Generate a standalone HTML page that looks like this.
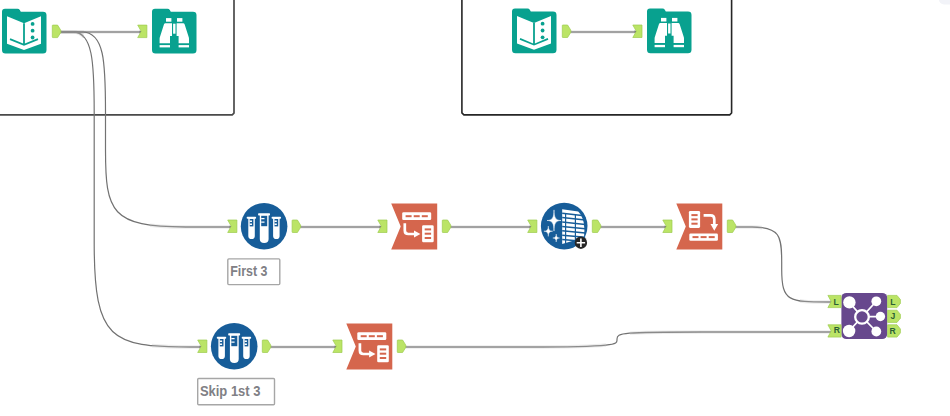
<!DOCTYPE html>
<html lang="en">
<head>
<meta charset="utf-8">
<title>Workflow</title>
<style>
  html,body{margin:0;padding:0;background:#fff;}
  body{width:950px;height:416px;overflow:hidden;position:relative;font-family:"Liberation Sans",sans-serif;}
  svg{position:absolute;left:0;top:0;display:block;}
  .wire path{fill:none;stroke:#727272;stroke-width:1.2;}
  .hwire path{fill:none;stroke:#8a8a8a;stroke-width:1.3;}
  .halo path{fill:none;stroke:#000;stroke-opacity:0.075;stroke-width:3.6;}
  .lbl{font-family:"Liberation Sans",sans-serif;font-size:15px;font-weight:bold;fill:#808085;}
  .anc{font-family:"Liberation Sans",sans-serif;font-size:8.6px;font-weight:bold;fill:#2b5f35;}
</style>
</head>
<body>
<svg width="950" height="416" viewBox="0 0 950 416">
  <defs>
    <clipPath id="ch"><rect x="58" y="26" width="26" height="12"/><rect x="150" y="221" width="90" height="12"/><rect x="152" y="341" width="60" height="12"/><rect x="733" y="221" width="29" height="12"/><rect x="800" y="296" width="34" height="12"/><rect x="400" y="341" width="206" height="12"/><rect x="630" y="326" width="204" height="12"/></clipPath>
    <clipPath id="cv"><path clip-rule="evenodd" d="M0,0 H950 V416 H0 Z M58,26 h26 v12 h-26 Z M150,221 h90 v12 h-90 Z M152,341 h60 v12 h-60 Z M733,221 h29 v12 h-29 Z M800,296 h34 v12 h-34 Z M400,341 h206 v12 h-206 Z M630,326 h204 v12 h-204 Z"/></clipPath>
    <!-- output anchor 9.1 x 13.3 -->
    <path id="aout" d="M1.2,0.4 H5.9 L9.1,5.6 V7.7 L5.9,12.9 H1.2 Q0.6,12.9 0.6,12.3 V1 Q0.6,0.4 1.2,0.4 Z" fill="#bbe466" stroke="#9ccb4d" stroke-width="0.7"/>
    <!-- input anchor 9.5 x 13.3 -->
    <path id="ain" d="M0.1,0.4 H9.3 V12.9 H0.1 L3.6,6.65 Z" fill="#bbe466" stroke="#9ccb4d" stroke-width="0.7"/>
    <!-- folder background 44.5 x 44.7 -->
    <path id="folder" d="M3,0 H15.5 Q17,0 17.8,1.2 L18.8,3 H41 Q44.5,3 44.5,6.4 V41.2 Q44.5,44.7 41,44.7 H3.5 Q0,44.7 0,41.2 V3 Q0,0 3,0 Z" fill="#08a18f"/>
    <g id="book">
      <use href="#folder"/>
      <path d="M5,7.5 L22,14.5 L39,7.5 V35 L22,41.2 L5,35 Z" fill="#fff"/>
      <path d="M22,14.5 V36.4" stroke="#08a18f" stroke-width="1.8" fill="none"/>
      <path d="M8,30.4 L22,36.2 L36,30.4" stroke="#08a18f" stroke-width="1.7" fill="none"/>
      <circle cx="30.6" cy="15.2" r="1.9" fill="#08a18f"/>
      <circle cx="30.6" cy="22" r="1.9" fill="#08a18f"/>
      <circle cx="30.6" cy="28.8" r="1.9" fill="#08a18f"/>
    </g>
    <g id="bino">
      <use href="#folder"/>
      <rect x="14" y="9.4" width="5.4" height="3.6" fill="#fff"/>
      <rect x="25" y="9.4" width="5.4" height="3.6" fill="#fff"/>
      <path d="M13.4,14.6 H20 V27.2 H18 V34.6 H7.6 V30 Q7.6,29 8,28 L12,15.6 Q12.4,14.6 13.4,14.6 Z" fill="#fff"/>
      <path d="M24.6,14.6 H31.2 Q32.2,14.6 32.6,15.6 L36.6,28 Q37,29 37,30 V34.6 H26.6 V27.2 H24.6 Z" fill="#fff"/>
      <rect x="21.1" y="15" width="2.4" height="10" fill="#fff"/>
      <rect x="7.6" y="36.4" width="10.4" height="2.3" fill="#fff"/>
      <rect x="26.6" y="36.4" width="10.4" height="2.3" fill="#fff"/>
    </g>
    <g id="sample">
      <circle cx="0" cy="0" r="23.3" fill="#175d99"/>
      <g fill="#fff">
        <rect x="-17.4" y="-9.6" width="9.4" height="2.1" rx="0.7"/>
        <path d="M-15.8,-8.2 H-9.3 V9.6 Q-9.3,12.7 -12.55,12.7 Q-15.8,12.7 -15.8,9.6 Z"/>
        <rect x="-6" y="-13.1" width="11.9" height="2.2" rx="0.7"/>
        <path d="M-4.3,-11.6 H4.5 V12.6 Q4.5,16.6 0.1,16.6 Q-4.3,16.6 -4.3,12.6 Z"/>
        <rect x="7.5" y="-9.6" width="9.4" height="2.1" rx="0.7"/>
        <path d="M9,-8.2 H15.5 V9.6 Q15.5,12.7 12.25,12.7 Q9,12.7 9,9.6 Z"/>
      </g>
      <g fill="#175d99">
        <rect x="-14.4" y="-7.3" width="3.7" height="7.4"/>
        <rect x="-2.9" y="-10.5" width="6" height="10.4"/>
        <rect x="10.4" y="-7.3" width="3.7" height="7.4"/>
      </g>
      <g fill="none" stroke="#fff" stroke-width="1.4">
        <path d="M-14.4,-5.1 H-12.1 M-14.4,-2.1 H-12.1"/>
        <path d="M-2.9,-7.7 H0.4 M-2.9,-4.2 H0.4"/>
        <path d="M10.4,-5.1 H12.7 M10.4,-2.1 H12.7"/>
      </g>
    </g>
    <path id="flag" d="M0,0 H46 V45.9 H0 L9.5,22.95 Z" fill="#d5664d"/>
    <g id="xtab">
      <use href="#flag"/>
      <rect x="11" y="8.8" width="29" height="7.8" rx="1.3" fill="#fff"/>
      <rect x="14.4" y="11.7" width="6" height="2" fill="#d5664d"/>
      <rect x="22.5" y="11.7" width="6" height="2" fill="#d5664d"/>
      <rect x="30.6" y="11.7" width="6" height="2" fill="#d5664d"/>
      <rect x="30.9" y="21.8" width="11.6" height="16.9" rx="1.3" fill="#fff"/>
      <rect x="33.5" y="24.9" width="6.4" height="2" fill="#d5664d"/>
      <rect x="33.5" y="29.2" width="6.4" height="2" fill="#d5664d"/>
      <rect x="33.5" y="33.5" width="6.4" height="2" fill="#d5664d"/>
      <path d="M13.6,19.8 V27 Q13.6,30.5 17.1,30.5 H24" fill="none" stroke="#fff" stroke-width="2.7"/>
      <path d="M22.8,26.9 L29.2,30.5 L22.8,34.1 Z" fill="#fff"/>
    </g>
    <g id="tpose">
      <use href="#flag"/>
      <rect x="12.6" y="7.5" width="11.2" height="16.9" rx="1.3" fill="#fff"/>
      <rect x="15.1" y="10.6" width="6.2" height="2" fill="#d5664d"/>
      <rect x="15.1" y="14.9" width="6.2" height="2" fill="#d5664d"/>
      <rect x="15.1" y="19.2" width="6.2" height="2" fill="#d5664d"/>
      <rect x="13" y="30" width="28.6" height="7.2" rx="1.3" fill="#fff"/>
      <rect x="16.2" y="32.6" width="6" height="2" fill="#d5664d"/>
      <rect x="24.3" y="32.6" width="6" height="2" fill="#d5664d"/>
      <rect x="32.4" y="32.6" width="6" height="2" fill="#d5664d"/>
      <path d="M27.3,11.9 H34.2 Q38,11.9 38,15.7 V22" fill="none" stroke="#fff" stroke-width="2.7"/>
      <path d="M34.2,20.6 L38,27.2 L41.8,20.6 Z" fill="#fff"/>
    </g>
  </defs>

  <!-- containers -->
  <path d="M-5,114.9 H232.2 L234,113.1 V-5" fill="none" stroke="#4a4a4a" stroke-width="1.7" stroke-linejoin="round"/>
  <path d="M461.9,-5 V112.9 L463.9,114.9 H729.7 L731.6,113 V-5" fill="none" stroke="#262626" stroke-width="1.6" stroke-linejoin="round"/>
  <!-- top-right faint chip -->
  <rect x="939" y="-10" width="30" height="14.5" rx="5" fill="#f2f3f8"/>

  <!-- wires -->
  <g class="halo">
    <path d="M60,32 H141.6"/>
    <path d="M570,32 H636.6"/>
    <path d="M300,227 H381.6"/>
    <path d="M450,227 H531.6"/>
    <path d="M600,227 H666.6"/>
    <path d="M270,347 H336.6"/>
  </g>
  <g class="hwire">
    <path d="M60,32 H141.6"/>
    <path d="M570,32 H636.6"/>
    <path d="M300,227 H381.6"/>
    <path d="M450,227 H531.6"/>
    <path d="M600,227 H666.6"/>
    <path d="M270,347 H336.6"/>
  </g>
  <g class="halo" clip-path="url(#ch)">
    <path d="M60,32 H82 C104.4,32 105.5,62 105.5,112 V150 C105.5,212 111.1,227 185.8,227 H231.6"/>
    <path d="M60,32 H73 C92.6,32 94.2,62 94.2,112 V244 C94.3,340 111.3,347 190,347 H201.6"/>
    <path d="M735,227 H752 C780,227 781.7,236 781.7,262 V269.6 C781.7,301.8 789.2,302 828.6,302 H831.6"/>
    <path d="M405,347 H528 C617,346.9 617,344.2 617,340.2 V339 C617,332.8 622,332 702,332 H831.6"/>
  </g>
  <g class="hwire" clip-path="url(#ch)">
    <path d="M60,32 H82 C104.4,32 105.5,62 105.5,112 V150 C105.5,212 111.1,227 185.8,227 H231.6"/>
    <path d="M60,32 H73 C92.6,32 94.2,62 94.2,112 V244 C94.3,340 111.3,347 190,347 H201.6"/>
    <path d="M735,227 H752 C780,227 781.7,236 781.7,262 V269.6 C781.7,301.8 789.2,302 828.6,302 H831.6"/>
    <path d="M405,347 H528 C617,346.9 617,344.2 617,340.2 V339 C617,332.8 622,332 702,332 H831.6"/>
  </g>
  <g class="wire" clip-path="url(#cv)">
    <path d="M60,32 H82 C104.4,32 105.5,62 105.5,112 V150 C105.5,212 111.1,227 185.8,227 H231.6"/>
    <path d="M60,32 H73 C92.6,32 94.2,62 94.2,112 V244 C94.3,340 111.3,347 190,347 H201.6"/>
    <path d="M735,227 H752 C780,227 781.7,236 781.7,262 V269.6 C781.7,301.8 789.2,302 828.6,302 H831.6"/>
    <path d="M405,347 H528 C617,346.9 617,344.2 617,340.2 V339 C617,332.8 622,332 702,332 H831.6"/>
  </g>
  <!-- wire heads -->
  <g fill="#747474">
    <path d="M139.6,30.6 L142.2,32.0 L139.6,33.4 Z"/>
    <path d="M634.6,30.3 L637.2,31.7 L634.6,33.1 Z"/>
    <path d="M229.6,225.6 L232.2,227.0 L229.6,228.4 Z"/>
    <path d="M379.6,225.6 L382.2,227.0 L379.6,228.4 Z"/>
    <path d="M529.6,225.6 L532.2,227.0 L529.6,228.4 Z"/>
    <path d="M664.6,225.6 L667.2,227.0 L664.6,228.4 Z"/>
    <path d="M199.6,345.6 L202.2,347.0 L199.6,348.4 Z"/>
    <path d="M334.6,345.6 L337.2,347.0 L334.6,348.4 Z"/>
  </g>

  <!-- group 1 -->
  <use href="#book" x="2" y="8.7"/>
  <use href="#aout" x="51.7" y="24.7"/>
  <use href="#ain" x="137.6" y="24.7"/>
  <use href="#bino" x="152" y="8.7"/>

  <!-- group 2 -->
  <use href="#book" x="512" y="8.5"/>
  <use href="#aout" x="561.7" y="24.6"/>
  <use href="#ain" x="632.7" y="24.6"/>
  <use href="#bino" x="647" y="8.5"/>

  <!-- row 1 -->
  <use href="#ain" x="227.6" y="219.6"/>
  <use href="#sample" x="264.1" y="226.3"/>
  <use href="#aout" x="291.5" y="219.6"/>

  <use href="#ain" x="377.7" y="219.6"/>
  <use href="#xtab" x="391.2" y="203.5"/>
  <use href="#aout" x="441.7" y="219.6"/>

  <use href="#ain" x="527.6" y="219.6"/>
  <g transform="translate(564.2,226.1)">
    <circle r="23.3" fill="#175d99"/>
    <path d="M-10.20,-16.20 C-10.20,-8.36 -8.38,-5.60 -3.20,-5.60 C-8.38,-5.60 -10.20,-2.84 -10.20,5.00 C-10.20,-2.84 -12.02,-5.60 -17.20,-5.60 C-12.02,-5.60 -10.20,-8.36 -10.20,-16.20 Z" fill="#fff" stroke="#fff" stroke-width="0.5" stroke-linejoin="round"/>
    <path d="M-15.90,-0.10 C-15.90,3.54 -14.58,5.10 -11.50,5.10 C-14.58,5.10 -15.90,6.66 -15.90,10.30 C-15.90,6.66 -17.22,5.10 -20.30,5.10 C-17.22,5.10 -15.90,3.54 -15.90,-0.10 Z" fill="#fff" stroke="#fff" stroke-width="0.4" stroke-linejoin="round"/>
    <path d="M-8.00,7.90 C-8.00,10.70 -6.98,11.90 -4.60,11.90 C-6.98,11.90 -8.00,13.10 -8.00,15.90 C-8.00,13.10 -9.02,11.90 -11.40,11.90 C-9.02,11.90 -8.00,10.70 -8.00,7.90 Z" fill="#fff" stroke="#fff" stroke-width="0.4" stroke-linejoin="round"/>
    <path d="M-2,-16.8 L14,-14.6 Q17.6,-11 19.4,-4 Q21,3 19.8,11.4 L-2,18 Z" fill="#fff"/>
    <g stroke="#175d99" fill="none">
      <path stroke-width="1.2" d="M1.4,-13 V18 M11.2,-12 V15"/>
      <path stroke-width="1.5" d="M-2,-12.9 L20,-10.3 M-2,-8.5 L21,-6 M-2,-4.1 L21,-1.7 M-2,0.3 L21,2.6 M-2,4.7 L21,6.9 M-2,9.1 L21,11.2 M-2,13.5 L21,15.5"/>
    </g>
    <circle cx="16.7" cy="16.6" r="6.2" fill="#262626"/>
    <path d="M12.5,16.6 H20.9 M16.7,12.4 V20.8" stroke="#fff" stroke-width="1.6"/>
  </g>
  <use href="#aout" x="591.7" y="219.6"/>

  <use href="#ain" x="662.7" y="219.6"/>
  <use href="#tpose" x="676.3" y="203.5"/>
  <use href="#aout" x="726.7" y="219.6"/>

  <!-- row 2 -->
  <use href="#ain" x="197.6" y="339.6"/>
  <use href="#sample" x="234.2" y="346.3"/>
  <use href="#aout" x="261.7" y="339.6"/>

  <use href="#ain" x="332.7" y="339.6"/>
  <use href="#xtab" x="346.3" y="323.5"/>
  <use href="#aout" x="396.7" y="339.6"/>

  <!-- join -->
  <g transform="translate(841.4,292.9)">
    <rect x="0" y="0" width="45.8" height="46.2" rx="5" fill="#67488d"/>
    <g stroke="#fff" stroke-width="1.7" fill="none">
      <path d="M8,9.6 L20.6,24 M34.9,8.4 L20.6,24 M39,23.7 H20.6 M7.7,38.1 L20.6,24 M34.9,38.6 L20.6,24"/>
    </g>
    <circle cx="8" cy="9.5" r="6.2" fill="#fff"/>
    <circle cx="34.9" cy="8.4" r="4.9" fill="#fff"/>
    <circle cx="39" cy="23.6" r="4.7" fill="#fff"/>
    <circle cx="7.7" cy="38.1" r="6.2" fill="#fff"/>
    <circle cx="34.9" cy="38.6" r="4.9" fill="#fff"/>
    <circle cx="20.6" cy="24" r="6.8" fill="#67488d" stroke="#fff" stroke-width="2.3"/>
  </g>
  <g fill="#bbe466" stroke="#9ccb4d" stroke-width="0.7">
    <path d="M827.9,295.4 H841.1 V307.6 H827.9 L831.2,301.5 Z"/>
    <path d="M827.9,324.8 H841.1 V337.1 H827.9 L831.2,330.95 Z"/>
    <path d="M887.6,295.4 H897 L900.4,299.6 V303.4 L897,307.6 H887.6 Z"/>
    <path d="M887.6,310.2 H897 L900.4,314.4 V318.2 L897,322.4 H887.6 Z"/>
    <path d="M887.6,324.8 H897 L900.4,329 V332.9 L897,337.1 H887.6 Z"/>
  </g>
  <text class="anc" x="833.5" y="304.8">L</text>
  <text class="anc" x="833.7" y="333.4">R</text>
  <text class="anc" x="890.2" y="304.6">L</text>
  <text class="anc" x="890.4" y="318.7">J</text>
  <text class="anc" x="889.6" y="333.6">R</text>

  <!-- labels -->
  <rect x="227.8" y="258.9" width="52" height="25.7" rx="1" fill="#fff" stroke="#a6a6a6" stroke-width="1.4"/>
  <text class="lbl" x="230.2" y="275.8" textLength="37.3" lengthAdjust="spacingAndGlyphs">First 3</text>
  <rect x="197.7" y="378.5" width="76.8" height="26.2" rx="1" fill="#fff" stroke="#a6a6a6" stroke-width="1.4"/>
  <text class="lbl" x="199.9" y="396.1" textLength="60.6" lengthAdjust="spacingAndGlyphs">Skip 1st 3</text>
</svg>
</body>
</html>
